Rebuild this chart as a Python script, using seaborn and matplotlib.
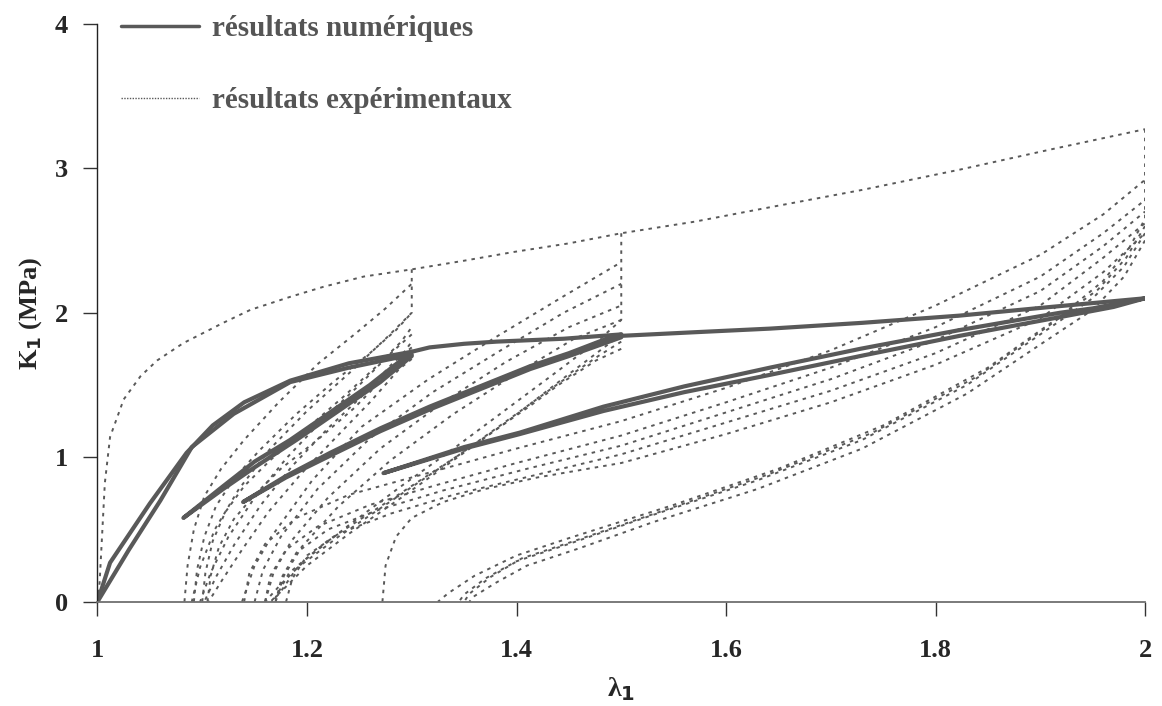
import matplotlib
matplotlib.use("Agg")
import matplotlib.pyplot as plt
from matplotlib.lines import Line2D
import seaborn as sns
import pandas as pd

# ---------------- data ----------------
# experimental envelope (first loading)
env_x = [1.0, 1.002, 1.007, 1.012, 1.025, 1.041, 1.057, 1.082, 1.12, 1.146, 1.184, 1.216, 1.254, 1.3,
         1.35, 1.397, 1.45, 1.5, 1.57, 1.642, 1.73, 1.823, 1.91, 2.0]
env_y = [0.0, 0.13, 0.82, 1.14, 1.40, 1.56, 1.67, 1.79, 1.93, 2.02, 2.11, 2.18, 2.25, 2.30,
         2.36, 2.42, 2.48, 2.55, 2.63, 2.73, 2.85, 2.99, 3.13, 3.27]

# level 1 (lambda max = 1.3): reloading curves
r1a_x = [1.083, 1.086, 1.092, 1.102, 1.118, 1.14, 1.173, 1.211, 1.247, 1.275, 1.300]
r1a_y = [0.0, 0.25, 0.50, 0.73, 0.92, 1.12, 1.38, 1.65, 1.86, 2.03, 2.20]
r1b_x = [1.092, 1.095, 1.102, 1.113, 1.13, 1.155, 1.19, 1.225, 1.26, 1.285, 1.300]
r1b_y = [0.0, 0.22, 0.45, 0.66, 0.85, 1.05, 1.30, 1.52, 1.72, 1.88, 2.00]
r1c_x = [1.100, 1.103, 1.110, 1.122, 1.14, 1.165, 1.20, 1.235, 1.265, 1.29, 1.300]
r1c_y = [0.0, 0.20, 0.42, 0.62, 0.80, 0.98, 1.20, 1.42, 1.62, 1.80, 1.90]
r1d_x = [1.105, 1.108, 1.116, 1.13, 1.15, 1.175, 1.21, 1.245, 1.272, 1.292, 1.300]
r1d_y = [0.0, 0.18, 0.38, 0.57, 0.74, 0.92, 1.12, 1.34, 1.54, 1.72, 1.80]
# level 1: unloading curves
u1a_x = [1.300, 1.300, 1.275, 1.24, 1.20, 1.165, 1.135, 1.112, 1.098, 1.090]
u1a_y = [2.30, 2.00, 1.82, 1.58, 1.32, 1.06, 0.78, 0.50, 0.24, 0.0]
u1b_x = [1.300, 1.28, 1.25, 1.215, 1.18, 1.15, 1.125, 1.108, 1.098]
u1b_y = [1.85, 1.72, 1.50, 1.26, 0.99, 0.72, 0.45, 0.20, 0.0]
u1c_x = [1.300, 1.288, 1.26, 1.228, 1.195, 1.163, 1.138, 1.119, 1.106]
u1c_y = [1.68, 1.61, 1.38, 1.14, 0.89, 0.62, 0.36, 0.15, 0.0]
u1d_x = [1.300, 1.283, 1.255, 1.22, 1.186, 1.156, 1.131, 1.113, 1.102]
u1d_y = [1.76, 1.66, 1.44, 1.20, 0.94, 0.67, 0.40, 0.17, 0.0]

# level 2 (lambda max = 1.5): reloading curves
r2a_x = [1.138, 1.15, 1.166, 1.205, 1.252, 1.316, 1.380, 1.444, 1.500]
r2a_y = [0.0, 0.25, 0.45, 0.84, 1.21, 1.54, 1.83, 2.11, 2.35]
r2b_x = [1.150, 1.158, 1.175, 1.21, 1.26, 1.32, 1.385, 1.445, 1.500]
r2b_y = [0.0, 0.22, 0.45, 0.78, 1.13, 1.45, 1.74, 2.00, 2.20]
r2c_x = [1.160, 1.168, 1.185, 1.22, 1.27, 1.33, 1.39, 1.45, 1.500]
r2c_y = [0.0, 0.20, 0.42, 0.72, 1.06, 1.38, 1.66, 1.90, 2.05]
r2d_x = [1.170, 1.178, 1.195, 1.23, 1.28, 1.34, 1.40, 1.455, 1.500]
r2d_y = [0.0, 0.18, 0.38, 0.66, 0.98, 1.30, 1.58, 1.82, 1.95]
# level 2: unloading curves
u2a_x = [1.500, 1.500, 1.48, 1.44, 1.39, 1.34, 1.29, 1.24, 1.20, 1.175, 1.160]
u2a_y = [2.55, 1.95, 1.82, 1.60, 1.33, 1.06, 0.80, 0.53, 0.30, 0.12, 0.0]
u2b_x = [1.500, 1.48, 1.44, 1.39, 1.34, 1.29, 1.24, 1.20, 1.178, 1.165]
u2b_y = [1.85, 1.74, 1.52, 1.24, 0.98, 0.72, 0.47, 0.25, 0.09, 0.0]
u2c_x = [1.500, 1.476, 1.44, 1.412, 1.348, 1.285, 1.221, 1.183, 1.170, 1.168]
u2c_y = [1.75, 1.67, 1.50, 1.35, 1.03, 0.73, 0.43, 0.20, 0.03, 0.0]
u2d_x = [1.500, 1.478, 1.44, 1.40, 1.344, 1.287, 1.23, 1.19, 1.174, 1.166]
u2d_y = [1.80, 1.70, 1.51, 1.30, 1.01, 0.73, 0.45, 0.23, 0.06, 0.0]

# level 3 (lambda max = 2): reloading curves
r3a_x = [1.140, 1.145, 1.16, 1.19, 1.24, 1.30, 1.40, 1.50, 1.60, 1.70, 1.80, 1.90, 1.96, 2.00]
r3a_y = [0.0, 0.20, 0.40, 0.58, 0.74, 0.86, 1.06, 1.25, 1.48, 1.74, 2.05, 2.40, 2.68, 2.92]
r3b_x = [1.160, 1.165, 1.18, 1.21, 1.26, 1.32, 1.40, 1.50, 1.60, 1.70, 1.80, 1.90, 1.96, 2.00]
r3b_y = [0.0, 0.18, 0.36, 0.52, 0.67, 0.80, 0.96, 1.15, 1.38, 1.62, 1.90, 2.25, 2.55, 2.78]
r3c_x = [1.180, 1.186, 1.20, 1.23, 1.28, 1.34, 1.42, 1.50, 1.60, 1.70, 1.80, 1.90, 1.96, 2.00]
r3c_y = [0.0, 0.16, 0.32, 0.47, 0.61, 0.74, 0.88, 1.02, 1.24, 1.46, 1.72, 2.05, 2.38, 2.62]
r3d_x = [1.272, 1.275, 1.285, 1.30, 1.33, 1.37, 1.42, 1.50, 1.60, 1.70, 1.80, 1.90, 1.96, 2.00]
r3d_y = [0.0, 0.25, 0.45, 0.58, 0.69, 0.78, 0.86, 0.96, 1.16, 1.38, 1.64, 1.96, 2.28, 2.55]
r3e_x = [1.170, 1.176, 1.19, 1.22, 1.27, 1.33, 1.41, 1.50, 1.60, 1.70, 1.80, 1.90, 1.96, 2.00]
r3e_y = [0.0, 0.17, 0.34, 0.50, 0.64, 0.77, 0.92, 1.08, 1.31, 1.54, 1.81, 2.15, 2.46, 2.70]
# level 3: unloading curves
u3a_x = [2.000, 2.000, 1.985, 1.96, 1.92, 1.85, 1.75, 1.65, 1.55, 1.45, 1.40, 1.36, 1.335, 1.325]
u3a_y = [3.27, 2.65, 2.45, 2.22, 1.98, 1.62, 1.22, 0.92, 0.67, 0.44, 0.32, 0.18, 0.06, 0.0]
u3b_x = [2.000, 1.98, 1.95, 1.90, 1.83, 1.73, 1.63, 1.53, 1.45, 1.40, 1.37, 1.35, 1.345]
u3b_y = [2.55, 2.32, 2.10, 1.85, 1.50, 1.12, 0.84, 0.60, 0.40, 0.28, 0.16, 0.05, 0.0]
u3c_x = [2.000, 1.98, 1.95, 1.90, 1.83, 1.73, 1.63, 1.53, 1.46, 1.41, 1.38, 1.36, 1.355]
u3c_y = [2.50, 2.25, 2.02, 1.78, 1.44, 1.06, 0.78, 0.55, 0.37, 0.25, 0.13, 0.04, 0.0]
u3d_x = [2.000, 1.982, 1.955, 1.91, 1.84, 1.74, 1.64, 1.54, 1.455, 1.405, 1.375, 1.355, 1.350]
u3d_y = [2.60, 2.38, 2.16, 1.92, 1.56, 1.17, 0.88, 0.63, 0.42, 0.30, 0.17, 0.055, 0.0]

# numerical results
n1a_x = [1.0, 1.012, 1.05, 1.085, 1.11, 1.14, 1.184, 1.24, 1.30]
n1a_y = [0.0, 0.27, 0.68, 1.03, 1.22, 1.38, 1.53, 1.65, 1.73]
n1b_x = [1.30, 1.24, 1.184, 1.13, 1.09, 1.06, 1.03, 1.0]
n1b_y = [1.71, 1.62, 1.52, 1.30, 1.07, 0.70, 0.36, 0.0]
n2_x = [1.30, 1.26, 1.22, 1.184, 1.15, 1.12, 1.082, 1.12, 1.15, 1.19, 1.23, 1.27, 1.30]
n2_y = [1.73, 1.50, 1.30, 1.12, 0.97, 0.80, 0.58, 0.78, 0.93, 1.12, 1.32, 1.52, 1.70]
n3_x = [1.30, 1.317, 1.35, 1.381, 1.445, 1.50]
n3_y = [1.73, 1.76, 1.785, 1.80, 1.82, 1.85]
n4_x = [1.50, 1.486, 1.45, 1.413, 1.365, 1.317, 1.27, 1.222, 1.18, 1.139,
        1.18, 1.222, 1.27, 1.317, 1.365, 1.413, 1.45, 1.50]
n4_y = [1.85, 1.82, 1.72, 1.63, 1.49, 1.35, 1.20, 1.03, 0.87, 0.69,
        0.86, 1.01, 1.18, 1.33, 1.47, 1.61, 1.70, 1.83]
n5_x = [1.50, 1.57, 1.642, 1.73, 1.823, 1.91, 2.00]
n5_y = [1.84, 1.865, 1.89, 1.93, 1.98, 2.04, 2.10]
n6_x = [2.00, 1.95, 1.919, 1.823, 1.728, 1.642, 1.56, 1.483, 1.403, 1.35, 1.273,
        1.35, 1.403, 1.483, 1.56, 1.642, 1.728, 1.823, 1.919, 1.97, 2.00]
n6_y = [2.10, 2.03, 2.00, 1.88, 1.75, 1.62, 1.49, 1.35, 1.17, 1.07, 0.89,
        1.06, 1.16, 1.32, 1.45, 1.57, 1.70, 1.84, 1.97, 2.04, 2.10]

x_ticks = [1, 1.2, 1.4, 1.6, 1.8, 2]
x_tick_labels = ["1", "1.2", "1.4", "1.6", "1.8", "2"]
y_ticks = [0, 1, 2, 3, 4]
y_tick_labels = ["0", "1", "2", "3", "4"]
legend_labels = ["résultats numériques", "résultats expérimentaux"]

exp_curves = {
    "env": (env_x, env_y),
    "r1a": (r1a_x, r1a_y), "r1b": (r1b_x, r1b_y), "r1c": (r1c_x, r1c_y), "r1d": (r1d_x, r1d_y),
    "u1a": (u1a_x, u1a_y), "u1b": (u1b_x, u1b_y), "u1c": (u1c_x, u1c_y), "u1d": (u1d_x, u1d_y),
    "r2a": (r2a_x, r2a_y), "r2b": (r2b_x, r2b_y), "r2c": (r2c_x, r2c_y), "r2d": (r2d_x, r2d_y),
    "u2a": (u2a_x, u2a_y), "u2b": (u2b_x, u2b_y), "u2c": (u2c_x, u2c_y), "u2d": (u2d_x, u2d_y),
    "r3a": (r3a_x, r3a_y), "r3b": (r3b_x, r3b_y), "r3c": (r3c_x, r3c_y), "r3d": (r3d_x, r3d_y),
    "r3e": (r3e_x, r3e_y),
    "u3a": (u3a_x, u3a_y), "u3b": (u3b_x, u3b_y), "u3c": (u3c_x, u3c_y), "u3d": (u3d_x, u3d_y),
}
num_curves = {
    "n1a": (n1a_x, n1a_y), "n1b": (n1b_x, n1b_y), "n2": (n2_x, n2_y),
    "n3": (n3_x, n3_y), "n4": (n4_x, n4_y), "n5": (n5_x, n5_y), "n6": (n6_x, n6_y),
}

rows = []
for kind, curves in (("exp", exp_curves), ("num", num_curves)):
    for name, (xs, ys) in curves.items():
        for i, (xv, yv) in enumerate(zip(xs, ys)):
            rows.append({"lam": xv, "K": yv, "curve": name, "kind": kind, "order": i})
df = pd.DataFrame(rows)

# ---------------- styling ----------------
sns.set_theme(style="ticks")
plt.rcParams["font.family"] = ["Liberation Serif", "DejaVu Serif"]
plt.rcParams["font.weight"] = "bold"
plt.rcParams["mathtext.fontset"] = "custom"
plt.rcParams["mathtext.sf"] = "DejaVu Sans:bold"
plt.rcParams["mathtext.rm"] = "Liberation Serif:bold"

line_color = "#595959"
fig = plt.figure(figsize=(11.62, 7.06), dpi=100)
ax = fig.add_axes([0.0839, 0.1477, 0.9015, 0.8187])

exp_df = df[df["kind"] == "exp"]
num_df = df[df["kind"] == "num"]
sns.lineplot(data=exp_df, x="lam", y="K", units="curve", estimator=None, sort=False,
             color=line_color, linewidth=1.4, dashes=False, ax=ax, legend=False)
for ln in ax.get_lines():
    ln.set_linestyle((0, (1.8, 2.6)))
n_before = len(ax.get_lines())
sns.lineplot(data=num_df, x="lam", y="K", units="curve", estimator=None, sort=False,
             color=line_color, linewidth=3.0, ax=ax, legend=False)
for ln in ax.get_lines()[n_before:]:
    ln.set_solid_joinstyle("round")
    ln.set_solid_capstyle("round")

ax.set_xlim(1, 2)
ax.set_ylim(0, 4)
sns.despine(ax=ax)
ax.spines["bottom"].set_color("#707070")
ax.spines["bottom"].set_linewidth(1.3)
ax.spines["left"].set_color("#222222")
ax.spines["left"].set_linewidth(1.0)

ax.set_xticks(x_ticks)
ax.set_xticklabels(x_tick_labels)
ax.set_yticks(y_ticks)
ax.set_yticklabels(y_tick_labels)
ax.tick_params(axis="x", direction="out", length=10, width=1.0, color="#333333",
               pad=17, labelsize=19)
ax.tick_params(axis="y", direction="out", length=10, width=1.0, color="#333333",
               pad=11, labelsize=19)
for lab in ax.get_xticklabels() + ax.get_yticklabels():
    lab.set_fontweight("bold")

ax.set_xlabel(r"λ$_{\mathsf{1}}$", fontsize=20, fontweight="bold", labelpad=9)
ax.set_ylabel(r"K$_{\mathsf{1}}$ (MPa)", fontsize=19, fontweight="bold", labelpad=8)

handles = [Line2D([], [], color=line_color, linewidth=2.5),
           Line2D([], [], color=line_color, linewidth=1.0, linestyle=(0, (1, 1)))]
leg = ax.legend(handles, legend_labels, loc="upper left", bbox_to_anchor=(-0.003, 1.06),
                frameon=False, handlelength=2.7, handletextpad=0.45, labelspacing=1.55,
                prop={"family": ["Liberation Serif"], "weight": "bold", "size": 21},
                labelcolor="#555555")

fig.savefig("out.png", dpi=100)
